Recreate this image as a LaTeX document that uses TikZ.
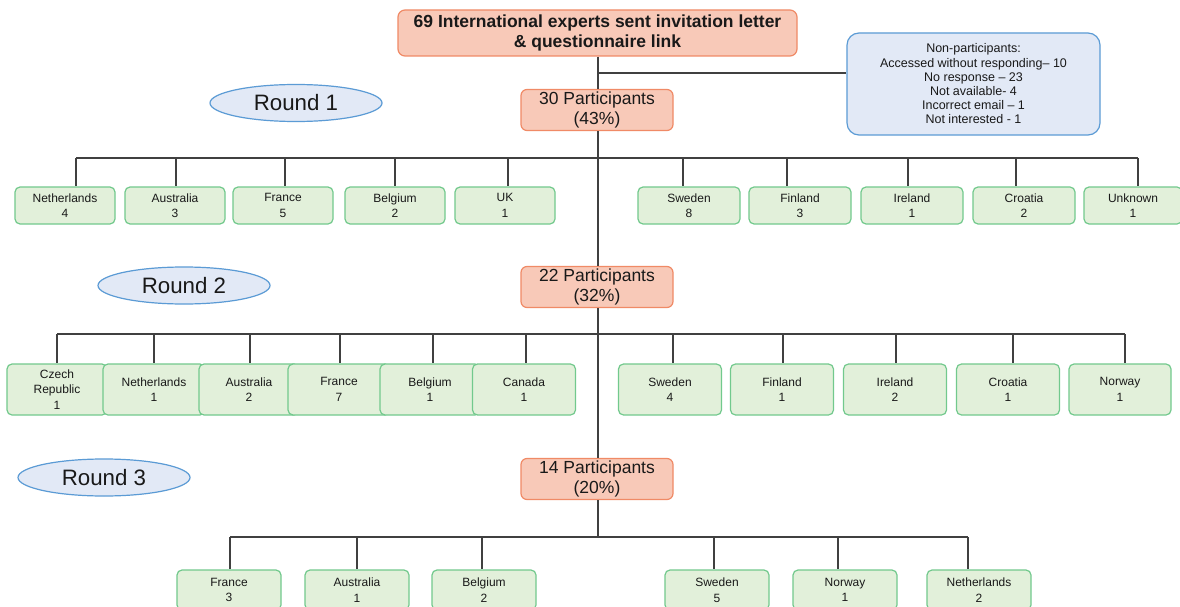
\documentclass[tikz,border=0pt]{standalone}
\usepackage{fontspec}
\setmainfont{Liberation Sans}
\usetikzlibrary{shapes.geometric}
\definecolor{sfill}{HTML}{F8C9B8}
\definecolor{sdraw}{HTML}{F08A66}
\definecolor{gfill}{HTML}{E2F0DA}
\definecolor{gdraw}{HTML}{72C98D}
\definecolor{bfill}{HTML}{E2E9F6}
\definecolor{bdraw}{HTML}{5B9BD5}
\definecolor{lcol}{HTML}{404040}
\tikzset{
  country/.style={draw=gdraw, fill=gfill, rounded corners=5pt, line width=1.2pt, align=center,
    font=\fontsize{12}{15.5}\selectfont, inner sep=0pt, text=black!90},
  cw/.style={minimum width=#1pt},
  r1/.style={country, minimum height=37pt},
  r2/.style={country, minimum height=51pt},
  r3/.style={country, minimum height=40pt, minimum width=104pt},
  partbox/.style={draw=sdraw, fill=sfill, rounded corners=6pt, line width=1.2pt, align=center,
    font=\fontsize{17.5}{20}\selectfont, inner sep=0pt, minimum width=152pt, minimum height=41pt, text=black!90},
  roundlbl/.style={ellipse, draw=bdraw, fill=bfill, line width=1.2pt, minimum width=172pt,
    minimum height=37pt, inner sep=0pt, font=\fontsize{22.3}{26}\selectfont, text=black!90},
  conn/.style={draw=lcol, line width=1.3pt}
}
\begin{document}
\begin{tikzpicture}[x=1pt,y=-1pt]
\useasboundingbox (0,0) rectangle (1180,607);
\clip (0,0) rectangle (1180,607);
\fill[white] (0,0) rectangle (1180,607);

% main nodes
\node[draw=sdraw, fill=sfill, rounded corners=7pt, line width=1.2pt, align=center,
  font=\fontsize{17.5}{19.5}\bfseries\selectfont, inner sep=0pt, minimum width=399pt, minimum height=46pt, text=black!90]
  (main) at (597.5,33) {69 International experts sent invitation letter\\\& questionnaire link};
\node[draw=bdraw, fill=bfill, rounded corners=12pt, line width=1.2pt, align=center,
  font=\fontsize{12.5}{14.2}\selectfont, inner sep=0pt, minimum width=253pt, minimum height=102pt, text=black!90]
  (np) at (973.5,84) {Non-participants:\\Accessed without responding-- 10\\No response -- 23\\Not available- 4\\Incorrect email -- 1\\Not interested - 1};

\node[partbox] (p30) at (597,110) {30 Participants\\(43\%)};
\node[partbox] (p22) at (597,287) {22 Participants\\(32\%)};
\node[partbox] (p14) at (597,479) {14 Participants\\(20\%)};

\node[roundlbl] (rd1) at (296,103) {Round 1};
\node[roundlbl] (rd2) at (184,285.5) {Round 2};
\node[roundlbl] (rd3) at (104,477.5) {Round 3};

% trunk
\coordinate (j0) at (598,73);
\coordinate (b1) at (598,158);
\coordinate (b2) at (598,334);
\coordinate (b3) at (598,537);
\draw[conn] (main.south -| j0) -- (p30.north -| j0);
\draw[conn] (p30.south -| j0) -- (p22.north -| j0);
\draw[conn] (p22.south -| j0) -- (p14.north -| j0);
\draw[conn] (p14.south -| j0) -- (b3);
\draw[conn] (j0) -- (j0 -| np.west);

% Round 1 countries
\node[r1, cw=100] (a1) at (65,205.5) {Netherlands\\4};
\node[r1, cw=100] (a2) at (175,205.5) {Australia\\3};
\node[r1, cw=100] (a3) at (283,205.5) {France\\5};
\node[r1, cw=100] (a4) at (395,205.5) {Belgium\\2};
\node[r1, cw=100] (a5) at (505,205.5) {UK\\1};
\node[r1, cw=102] (a6) at (689,205.5) {Sweden\\8};
\node[r1, cw=102] (a7) at (800,205.5) {Finland\\3};
\node[r1, cw=102] (a8) at (912,205.5) {Ireland\\1};
\node[r1, cw=102] (a9) at (1024,205.5) {Croatia\\2};
\node[r1, cw=98] (a10) at (1133,205.5) {Unknown\\1};
\draw[conn] ([xshift=11pt]a1.north |- b1) -- ([xshift=5pt]a10.north |- b1);
\foreach \n/\s in {a1/11,a2/1,a3/2,a4/0,a5/3,a6/-6,a7/-13,a8/-4,a9/-8,a10/5}
  \draw[conn] ([xshift=\s pt]\n.north |- b1) -- ([xshift=\s pt]\n.north);

% Round 2 countries
\node[r2, cw=100] (c1) at (57,389.5) {Czech\\Republic\\1};
\node[r2, cw=102] (c2) at (154,389.5) {Netherlands\\1};
\node[r2, cw=100] (c3) at (249,389.5) {Australia\\2};
\node[r2, cw=102] (c4) at (339,389.5) {France\\7};
\node[r2, cw=100] (c5) at (430,389.5) {Belgium\\1};
\node[r2, cw=103] (c6) at (524,389.5) {Canada\\1};
\node[r2, cw=103] (c7) at (670,389.5) {Sweden\\4};
\node[r2, cw=103] (c8) at (782,389.5) {Finland\\1};
\node[r2, cw=103] (c9) at (895,389.5) {Ireland\\2};
\node[r2, cw=103] (c10) at (1008,389.5) {Croatia\\1};
\node[r2, cw=102] (c11) at (1120,389.5) {Norway\\1};
\draw[conn] (c1.north |- b2) -- ([xshift=5pt]c11.north |- b2);
\foreach \n/\s in {c1/0,c2/0,c3/1,c4/1,c5/3,c6/2,c7/3,c8/1,c9/1,c10/5,c11/5}
  \draw[conn] ([xshift=\s pt]\n.north |- b2) -- ([xshift=\s pt]\n.north);

% Round 3 countries
\node[r3] (d1) at (229,590) {France\\3};
\node[r3] (d2) at (357,590) {Australia\\1};
\node[r3] (d3) at (484,590) {Belgium\\2};
\node[r3] (d4) at (717,590) {Sweden\\5};
\node[r3] (d5) at (845,590) {Norway\\1};
\node[r3] (d6) at (979,590) {Netherlands\\2};
\draw[conn] ([xshift=1pt]d1.north |- b3) -- ([xshift=-11pt]d6.north |- b3);
\foreach \n/\s in {d1/1,d2/0,d3/-2,d4/-3,d5/-7,d6/-11}
  \draw[conn] ([xshift=\s pt]\n.north |- b3) -- ([xshift=\s pt]\n.north);
\end{tikzpicture}
\end{document}
